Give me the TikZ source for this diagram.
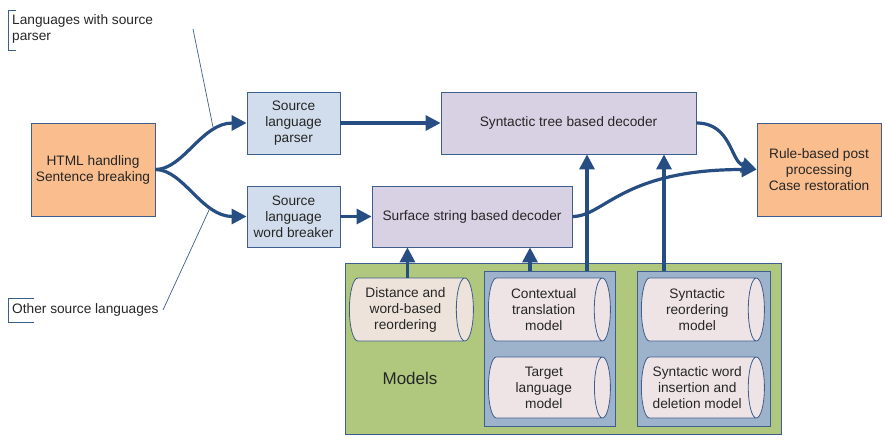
\documentclass[tikz,border=0pt]{standalone}
\usepackage{fontspec}
\setmainfont{Liberation Sans}
\usepackage{tikz}
\usetikzlibrary{positioning,shapes.geometric,arrows.meta}

\definecolor{edgeblue}{RGB}{62,94,142}
\definecolor{flowblue}{RGB}{38,78,130}
\definecolor{textgray}{RGB}{38,38,38}
\definecolor{stepfill}{RGB}{250,190,142}
\definecolor{srcfill}{RGB}{209,221,236}
\definecolor{decfill}{RGB}{216,209,227}
\definecolor{modelgreen}{RGB}{176,200,126}
\definecolor{panelblue}{RGB}{157,179,204}
\definecolor{storefill}{RGB}{238,228,230}
\definecolor{storebeige}{RGB}{237,227,218}

\tikzset{
  boxtext/.style={font=\fontsize{13.7}{16}\selectfont, text=textgray},
  procbox/.style={draw=edgeblue, line width=0.8pt, boxtext, align=center, inner sep=2pt},
  % cylinder sizes are given before the rotation: width is across, height along the axis
  store/.style={cylinder, shape border rotate=0, aspect=0.35, draw=edgeblue, line width=0.8pt,
    fill=storefill, boxtext, align=center, inner sep=2pt, anchor=west},
  flow/.style={draw=flowblue, line width=3.2pt, -{Triangle[length=15pt,width=15pt]}},
  leader/.style={draw=edgeblue, line width=0.7pt},
}

\begin{document}
\begin{tikzpicture}[x=1pt,y=-1pt]

\useasboundingbox (0,0) rectangle (886,442);

% processing chain
\node[procbox, fill=stepfill, minimum width=124pt, minimum height=93pt] (html) at (93,169.5) {HTML handling\\Sentence breaking};
\node[procbox, fill=srcfill, minimum width=93pt, minimum height=62pt] (parser) at (293.5,123) {Source\\language\\parser};
\node[procbox, fill=srcfill, minimum width=93pt, minimum height=61pt] (breaker) at (293.5,216.5) {Source\\language\\word breaker};
\node[procbox, fill=decfill, minimum width=255pt, minimum height=62pt] (tree) at (568.5,123) {Syntactic tree based decoder};
\node[procbox, fill=decfill, minimum width=200pt, minimum height=61pt] (surf) at (472,216.5) {Surface string based decoder};
\node[procbox, fill=stepfill, minimum width=124pt, minimum height=93pt] (post) at (819,169.5) {Rule-based post\\processing\\Case restoration};

% model stores
\node[draw=edgeblue, line width=0.8pt, fill=modelgreen, minimum width=436pt, minimum height=171pt] (models) at (563,348.5) {};
\node[draw=edgeblue, line width=0.8pt, fill=panelblue, minimum width=131pt, minimum height=155pt] (transpanel) at (549.5,348.5) {};
\node[draw=edgeblue, line width=0.8pt, fill=panelblue, minimum width=133pt, minimum height=155pt] (synpanel) at (703.5,348.5) {};

\node[store, fill=storebeige, minimum width=63pt, minimum height=124pt] (dist) at (349,309.5) {Distance and\\word-based\\reordering};
\node[store, minimum width=63pt, minimum height=122pt] (ctx) at (488,309.5) {Contextual\\translation\\model};
\node[store, minimum width=61pt, minimum height=122pt] (lm) at (488,387.5) {Target\\language\\model};
\node[store, minimum width=63pt, minimum height=123pt] (reord) at (641,309.5) {Syntactic\\reordering\\model};
\node[store, minimum width=61pt, minimum height=123pt] (insdel) at (641,387.5) {Syntactic word\\insertion and\\deletion model};

\node[text=textgray, font=\fontsize{17}{20}\selectfont] (modelslabel) at (410,378) {Models};

% data flow
\draw[flow] (html.east) .. controls +(28,0) and +(-45,0) .. (parser.west);
\draw[flow] (html.east) .. controls +(28,0) and +(-45,0) .. (breaker.west);
\draw[flow] (parser.east) -- (tree.west);
\draw[flow] (breaker.east) -- (surf.west);
\draw[flow] (tree.east) .. controls +(35,0) and +(-26,-8) .. (post.west);
\draw[flow] (surf.east) .. controls +(32,0) and +(-135,0) .. (post.west);

\draw[flow] ([xshift=2pt]dist.north) -- ([xshift=2pt]dist.north |- surf.south);
\draw[flow] ([xshift=-19.5pt]transpanel.north) -- ([xshift=-19.5pt]transpanel.north |- surf.south);
\draw[flow] ([xshift=37.5pt]transpanel.north) -- ([xshift=37.5pt]transpanel.north |- tree.south);
\draw[flow] ([xshift=-39.5pt]synpanel.north) -- ([xshift=-39.5pt]synpanel.north |- tree.south);

% callouts
\node[boxtext, align=left, anchor=west, inner sep=0pt] (withparser) at (12,29) {Languages with source\\parser};
\draw[leader] (16,10) -- (8,10) -- (8,50) -- (16,50);
\coordinate (leadA) at (193,29);
\coordinate (hitA) at (213,127);
\draw[leader] (leadA) -- (hitA);

\node[boxtext, anchor=west, inner sep=0pt] (otherlang) at (12,310) {Other source languages};
\draw[leader] (34,298) -- (8,298) -- (8,322) -- (34,322);
\coordinate (leadB) at (163,310);
\coordinate (hitB) at (210,208);
\draw[leader] (leadB) -- (hitB);

\end{tikzpicture}
\end{document}
